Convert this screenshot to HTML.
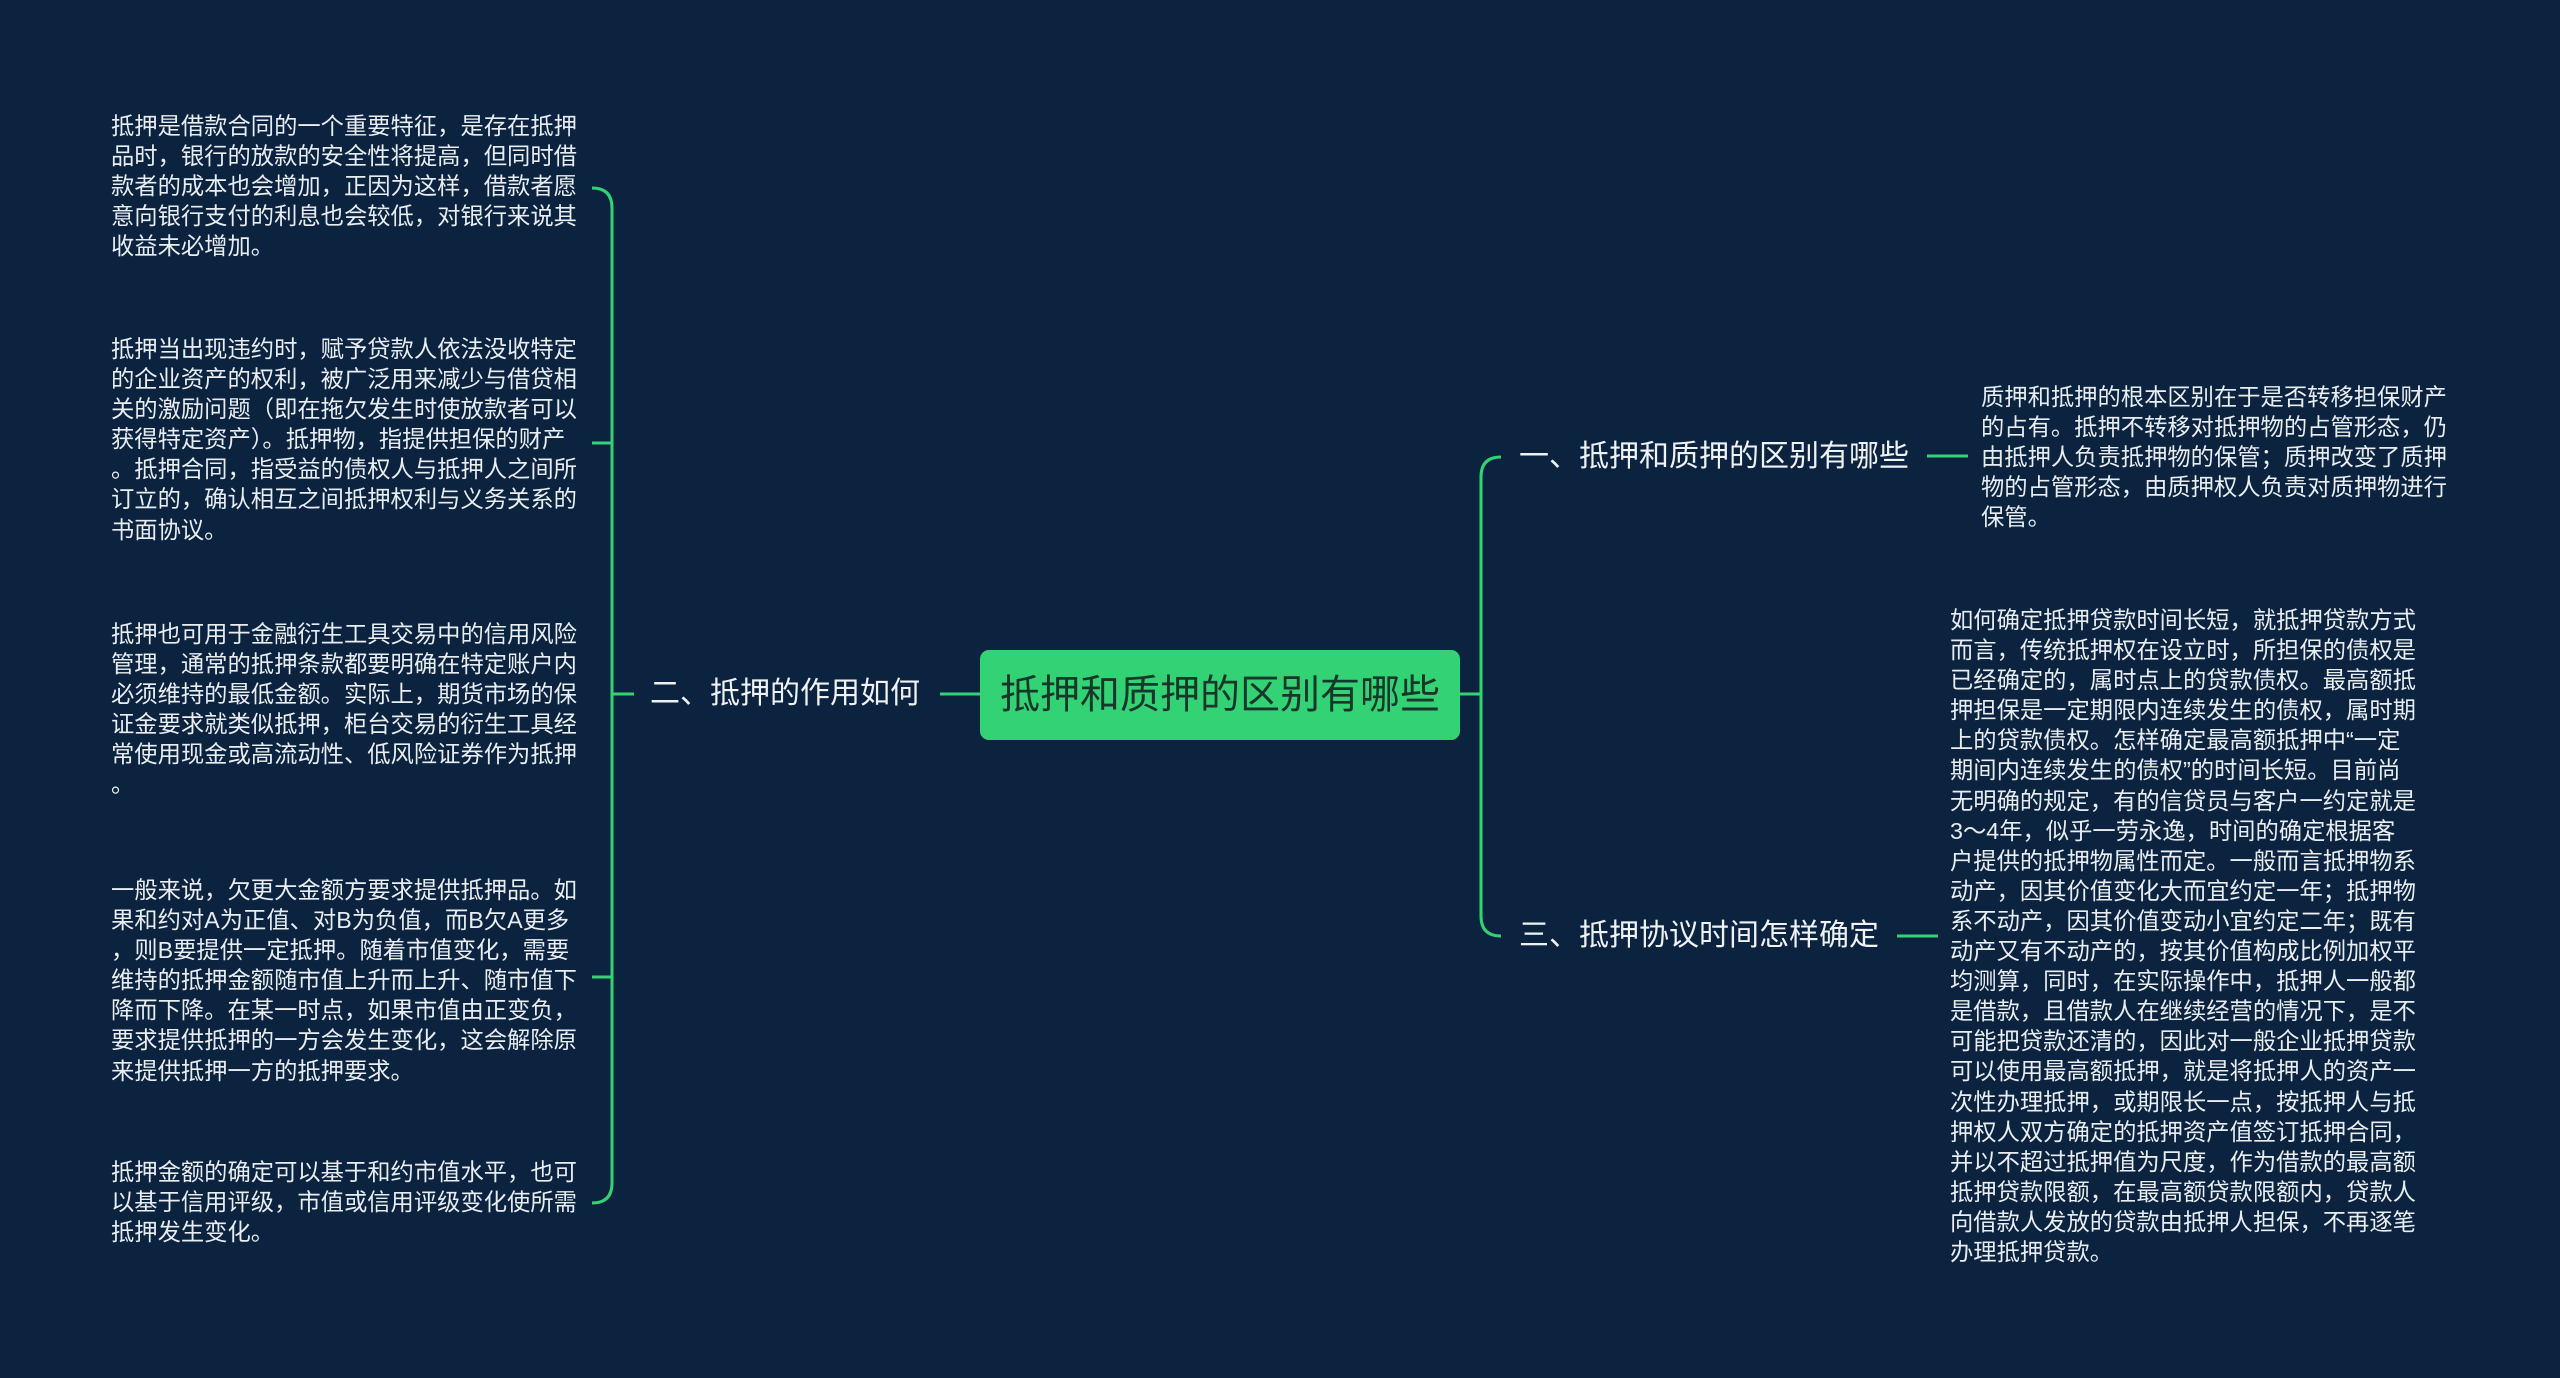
<!DOCTYPE html>
<html><head><meta charset="utf-8"><style>
html,body{margin:0;padding:0}
body{width:2560px;height:1378px;background:#0c2340;position:relative;overflow:hidden;font-family:"Liberation Sans","Noto Sans CJK SC",sans-serif;}
.leaf{position:absolute;color:#e8edf2;font-size:23.3px;line-height:30.1px;white-space:nowrap}
.br{position:absolute;color:#eef2f5;font-size:30px;line-height:40px;white-space:nowrap}
.root{position:absolute;left:980px;top:650px;width:480px;height:90px;background:#33d375;border-radius:9px;color:#17372a;font-size:40px;line-height:90px;text-align:center}
svg{position:absolute;left:0;top:0}
</style></head><body>
<svg width="2560" height="1378" fill="none" stroke="#33d375" stroke-width="3">
<path d="M592 188 Q612 188 612 208 L612 1183 Q612 1203 592 1203"/>
<path d="M592 443 L612 443"/>
<path d="M592 977 L612 977"/>
<path d="M612 694 L634 694"/>
<path d="M940 694 L980 694"/>
<path d="M1460 694 L1481 694"/>
<path d="M1501 457 Q1481 457 1481 477 L1481 916 Q1481 936 1501 936"/>
<path d="M1927 456 L1968 456"/>
<path d="M1897 936 L1938 936"/>
</svg>
<div class="root">抵押和质押的区别有哪些</div>
<div class="br" style="left:650px;top:674px">二、抵押的作用如何</div>
<div class="br" style="left:1519px;top:437px">一、抵押和质押的区别有哪些</div>
<div class="br" style="left:1519px;top:916px">三、抵押协议时间怎样确定</div>

<div class="leaf" style="left:111px;top:111px">抵押是借款合同的一个重要特征，是存在抵押<br>品时，银行的放款的安全性将提高，但同时借<br>款者的成本也会增加，正因为这样，借款者愿<br>意向银行支付的利息也会较低，对银行来说其<br>收益未必增加。</div>
<div class="leaf" style="left:111px;top:334px">抵押当出现违约时，赋予贷款人依法没收特定<br>的企业资产的权利，被广泛用来减少与借贷相<br>关的激励问题（即在拖欠发生时使放款者可以<br>获得特定资产）。抵押物，指提供担保的财产<br>。抵押合同，指受益的债权人与抵押人之间所<br>订立的，确认相互之间抵押权利与义务关系的<br>书面协议。</div>
<div class="leaf" style="left:111px;top:619px">抵押也可用于金融衍生工具交易中的信用风险<br>管理，通常的抵押条款都要明确在特定账户内<br>必须维持的最低金额。实际上，期货市场的保<br>证金要求就类似抵押，柜台交易的衍生工具经<br>常使用现金或高流动性、低风险证券作为抵押<br>。</div>
<div class="leaf" style="left:111px;top:875px">一般来说，欠更大金额方要求提供抵押品。如<br>果和约对A为正值、对B为负值，而B欠A更多<br>，则B要提供一定抵押。随着市值变化，需要<br>维持的抵押金额随市值上升而上升、随市值下<br>降而下降。在某一时点，如果市值由正变负，<br>要求提供抵押的一方会发生变化，这会解除原<br>来提供抵押一方的抵押要求。</div>
<div class="leaf" style="left:111px;top:1157px">抵押金额的确定可以基于和约市值水平，也可<br>以基于信用评级，市值或信用评级变化使所需<br>抵押发生变化。</div>

<div class="leaf" style="left:1981px;top:382px">质押和抵押的根本区别在于是否转移担保财产<br>的占有。抵押不转移对抵押物的占管形态，仍<br>由抵押人负责抵押物的保管；质押改变了质押<br>物的占管形态，由质押权人负责对质押物进行<br>保管。</div>
<div class="leaf" style="left:1950px;top:605px">如何确定抵押贷款时间长短，就抵押贷款方式<br>而言，传统抵押权在设立时，所担保的债权是<br>已经确定的，属时点上的贷款债权。最高额抵<br>押担保是一定期限内连续发生的债权，属时期<br>上的贷款债权。怎样确定最高额抵押中“一定<br>期间内连续发生的债权”的时间长短。目前尚<br>无明确的规定，有的信贷员与客户一约定就是<br>3～4年，似乎一劳永逸，时间的确定根据客<br>户提供的抵押物属性而定。一般而言抵押物系<br>动产，因其价值变化大而宜约定一年；抵押物<br>系不动产，因其价值变动小宜约定二年；既有<br>动产又有不动产的，按其价值构成比例加权平<br>均测算，同时，在实际操作中，抵押人一般都<br>是借款，且借款人在继续经营的情况下，是不<br>可能把贷款还清的，因此对一般企业抵押贷款<br>可以使用最高额抵押，就是将抵押人的资产一<br>次性办理抵押，或期限长一点，按抵押人与抵<br>押权人双方确定的抵押资产值签订抵押合同，<br>并以不超过抵押值为尺度，作为借款的最高额<br>抵押贷款限额，在最高额贷款限额内，贷款人<br>向借款人发放的贷款由抵押人担保，不再逐笔<br>办理抵押贷款。</div>
</body></html>
